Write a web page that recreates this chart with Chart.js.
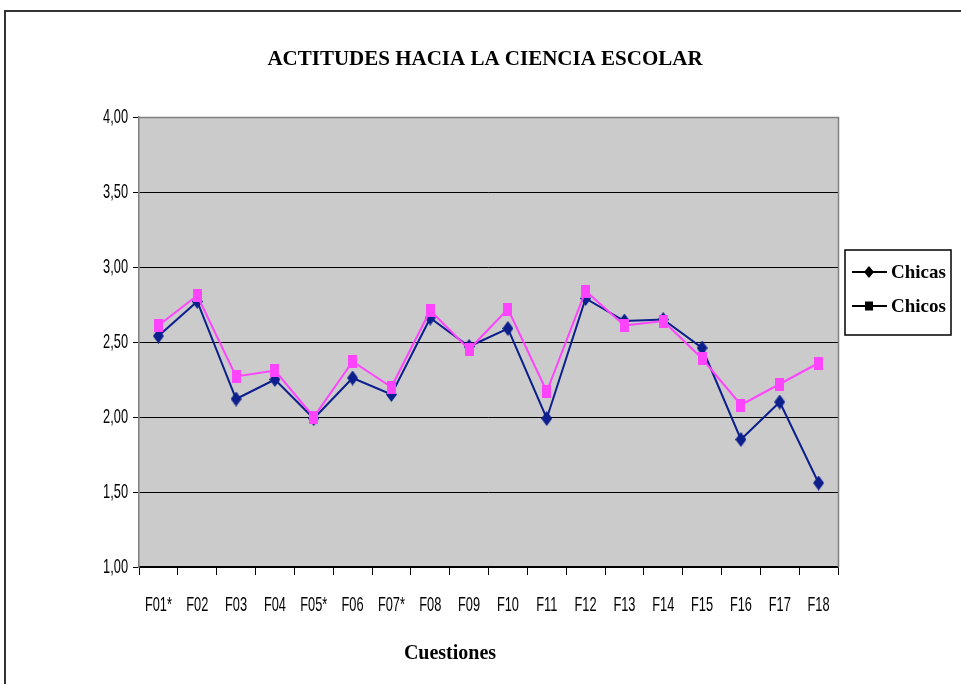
<!DOCTYPE html>
<html>
<head>
<meta charset="utf-8">
<script src="https://cdn.jsdelivr.net/npm/chart.js@4/dist/chart.umd.min.js"></script>
<style>
html,body{margin:0;padding:0;background:#fff;}
#wrap{width:961px;height:684px;position:relative;}
</style>
</head>
<body>
<div id="wrap"><canvas id="c" width="961" height="684"></canvas></div>
<script>
const categories = ["F01*","F02","F03","F04","F05*","F06","F07*","F08","F09","F10","F11","F12","F13","F14","F15","F16","F17","F18"];
const chicas = [2.54,2.77,2.12,2.25,1.99,2.26,2.15,2.66,2.47,2.59,1.99,2.79,2.64,2.65,2.46,1.85,2.10,1.56];
const chicos = [2.61,2.81,2.27,2.31,2.00,2.37,2.20,2.71,2.45,2.72,2.17,2.84,2.61,2.64,2.39,2.08,2.22,2.36];
const yTicks = [1,1.5,2,2.5,3,3.5,4];
const titleText = "ACTITUDES HACIA LA CIENCIA ESCOLAR";
const xTitleText = "Cuestiones";
const seriesNames = ["Chicas","Chicos"];

const NAVY = '#0c1f8c', PINK = '#ff44ff';
const SANS = '"Liberation Sans","Arimo",sans-serif';
const SERIF = '"Liberation Serif","DejaVu Serif",serif';
const SQUEEZE = 0.61;

function marker(kind, color){
  const c = document.createElement('canvas');
  const w = kind==='diamond' ? 11 : 9, h = kind==='diamond' ? 15 : 13;
  c.width = w; c.height = h;
  const x = c.getContext('2d');
  x.fillStyle = color;
  x.beginPath();
  if(kind==='diamond'){ x.moveTo(w/2,0); x.lineTo(w,h/2); x.lineTo(w/2,h); x.lineTo(0,h/2); x.closePath(); }
  else { x.rect(0,0,w,h); }
  x.fill();
  return c;
}
const diamondImg = marker('diamond', NAVY);
const squareImg = marker('square', PINK);

function squeezedText(ctx, text, x, y, align){
  ctx.save();
  ctx.translate(x, y);
  ctx.scale(SQUEEZE, 1);
  ctx.textAlign = align;
  ctx.fillText(text, 0, 0);
  ctx.restore();
}

const decor = {
  id:'decor',
  beforeDraw(chart){
    const ctx = chart.ctx, a = chart.chartArea;
    ctx.save();
    ctx.fillStyle = '#fff';
    ctx.fillRect(0,0,chart.width,chart.height);
    ctx.strokeStyle = '#333';
    ctx.lineWidth = 2;
    ctx.strokeRect(5,11,1100,1100);
    ctx.fillStyle = '#cbcbcb';
    ctx.fillRect(a.left,a.top,a.right-a.left,a.bottom-a.top);
    ctx.restore();
  },
  afterDraw(chart){
    const ctx = chart.ctx, a = chart.chartArea;
    ctx.save();
    ctx.strokeStyle = '#808080';
    ctx.lineWidth = 1.5;
    ctx.beginPath();
    ctx.moveTo(a.left, a.top+0.5); ctx.lineTo(a.right+0.5, a.top+0.5); ctx.lineTo(a.right+0.5, a.bottom);
    ctx.stroke();
    // tick labels (condensed, positioned through the scales)
    ctx.fillStyle = '#000';
    ctx.textBaseline = 'middle';
    ctx.font = '21px ' + SANS;
    const xs = chart.scales.x, ys = chart.scales.y;
    categories.forEach((lab,i)=>{ squeezedText(ctx, lab, xs.getPixelForValue(i), 605, 'center'); });
    yTicks.forEach(v=>{ squeezedText(ctx, v.toFixed(2).replace('.',','), 128, ys.getPixelForValue(v), 'right'); });
    // titles
    ctx.textAlign = 'center';
    ctx.font = 'bold 21px ' + SERIF;
    ctx.fillText(titleText, 485, 60);
    ctx.font = 'bold 20px ' + SERIF;
    ctx.fillText(xTitleText, 450, 654);
    // legend
    const lx = 845, ly = 250, lw = 106, lh = 85;
    ctx.fillStyle = '#fff';
    ctx.fillRect(lx,ly,lw,lh);
    ctx.strokeStyle = '#000';
    ctx.lineWidth = 1.5;
    ctx.strokeRect(lx,ly,lw,lh);
    const rows = [ly+22, ly+56];
    rows.forEach((y,i)=>{
      ctx.strokeStyle = '#000';
      ctx.lineWidth = 2;
      ctx.beginPath(); ctx.moveTo(852,y); ctx.lineTo(887,y); ctx.stroke();
      ctx.fillStyle = '#000';
      ctx.beginPath();
      if(i===0){
        ctx.moveTo(869,y-6); ctx.lineTo(874,y); ctx.lineTo(869,y+6); ctx.lineTo(864,y); ctx.closePath();
      } else {
        ctx.rect(865,y-4.5,8,9);
      }
      ctx.fill();
      ctx.textAlign = 'left';
      ctx.font = 'bold 19px ' + SERIF;
      ctx.fillText(seriesNames[i], 891, y+1);
    });
    ctx.restore();
  }
};

new Chart(document.getElementById('c'), {
  type:'line',
  data:{
    labels:categories,
    datasets:[
      {label:seriesNames[0], data:chicas, borderColor:NAVY, backgroundColor:NAVY, borderWidth:2,
       pointStyle:diamondImg, pointRadius:6, tension:0, order:2},
      {label:seriesNames[1], data:chicos, borderColor:PINK, backgroundColor:PINK, borderWidth:2,
       pointStyle:squareImg, pointRadius:6, tension:0, order:1}
    ]
  },
  options:{
    responsive:false,
    animation:false,
    devicePixelRatio:1,
    layout:{padding:{top:117,right:123,left:0,bottom:0}},
    plugins:{legend:{display:false}, title:{display:false}, tooltip:{enabled:false}},
    scales:{
      x:{
        offset:true,
        afterFit(s){ s.height = 117; },
        grid:{offset:true, drawOnChartArea:false, drawTicks:true, tickLength:8, color:'#000', lineWidth:1},
        border:{color:'#000', width:1.5},
        ticks:{display:false, autoSkip:false}
      },
      y:{
        min:1, max:4,
        afterFit(s){ s.width = 139; },
        afterBuildTicks(s){ s.ticks = yTicks.map(v=>({value:v})); },
        grid:{color:(c)=> c.tick && c.tick.value===4 ? '#808080' : '#000', lineWidth:1, tickLength:6, tickColor:'#000'},
        border:{color:'#808080', width:1.5},
        ticks:{display:false}
      }
    }
  },
  plugins:[decor]
});
</script>
</body>
</html>
